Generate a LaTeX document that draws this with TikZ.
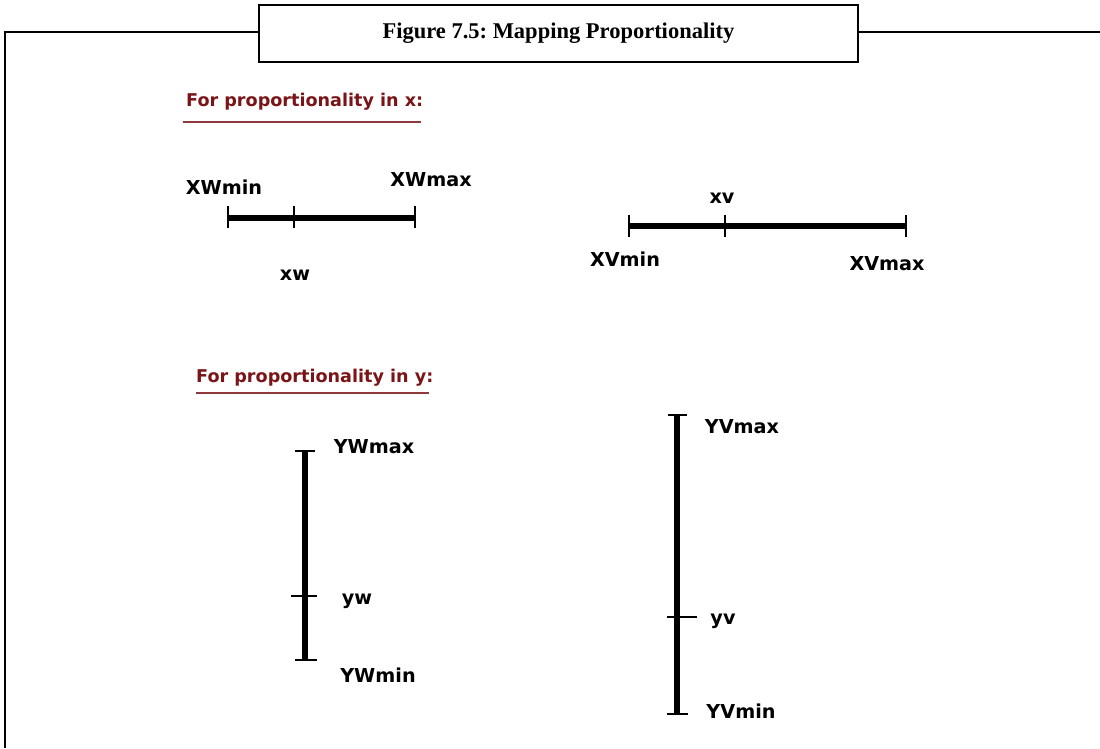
\documentclass[tikz,border=0pt]{standalone}
\usepackage{fontspec}
\newfontfamily\labfont{DejaVu Sans}
\newfontfamily\titlefont{Liberation Serif}
\definecolor{headred}{HTML}{7A1416}
\definecolor{linered}{HTML}{8E3A3C}
\frenchspacing
\begin{document}
\begin{tikzpicture}[x=1pt,y=-1pt,
  lab/.style={font=\labfont\bfseries\fontsize{19.2}{22}\selectfont, inner sep=0pt, anchor=center},
  head/.style={font=\labfont\bfseries\fontsize{17.6}{20}\selectfont, text=headred, inner sep=0pt, anchor=west},
  axisline/.style={line width=6pt},
  tick/.style={line width=1.4pt},
  uline/.style={draw=linered, line width=1.6pt},
  frame/.style={line width=1.8pt}]
\useasboundingbox (0,0) rectangle (1100,748);
% frame
\coordinate (fl) at (5,748);
\coordinate (ftl) at (5,32);
\coordinate (fr) at (1100,32);
\node[draw, line width=1.8pt, minimum width=599pt, minimum height=57pt, anchor=north west, inner sep=0pt,
  font=\titlefont\bfseries\fontsize{22.5}{24}\selectfont] (title) at (258,4) {Figure 7.5: Mapping Proportionality};
\draw[frame] (fl) -- (ftl) -- (title.west |- ftl);
\draw[frame] (title.east |- fr) -- (fr);
% headings
\node[head] (h1) at (186,102) {For proportionality in x:};
\draw[uline] (183,122) -- (421,122);
\node[head] (h2) at (196,378) {For proportionality in y:};
\draw[uline] (196,393) -- (429,393);
% x window axis
\coordinate (xw0) at (228,218);
\coordinate (xw1) at (415,218);
\coordinate (xwm) at (294,218);
\draw[axisline] (xw0) -- (xw1);
\draw[tick] ([yshift=-10pt]xw0) -- ([yshift=12pt]xw0);
\draw[tick] ([yshift=-10pt]xw1) -- ([yshift=12pt]xw1);
\draw[tick] ([yshift=-10pt]xwm) -- ([yshift=12pt]xwm);
\node[lab] (lxwmin) at (224,187) {XWmin};
\node[lab] (lxwmax) at (431,180) {XWmax};
\node[lab] (lxw) at (295,275) {xw};
% x viewport axis
\coordinate (xv0) at (629,226);
\coordinate (xv1) at (906,226);
\coordinate (xvm) at (725,226);
\draw[axisline] (xv0) -- (xv1);
\draw[tick] ([yshift=-11pt]xv0) -- ([yshift=11pt]xv0);
\draw[tick] ([yshift=-11pt]xv1) -- ([yshift=11pt]xv1);
\draw[tick] ([yshift=-11pt]xvm) -- ([yshift=11pt]xvm);
\node[lab] (lxv) at (722,198) {xv};
\node[lab] (lxvmin) at (625,259) {XVmin};
\node[lab] (lxvmax) at (887,264) {XVmax};
% y window axis
\coordinate (yw1) at (305,451);
\coordinate (yw0) at (305,660);
\coordinate (ywm) at (305,596);
\draw[axisline] (yw1) -- (yw0);
\draw[tick] ([xshift=-10pt]yw1) -- ([xshift=10pt]yw1);
\draw[tick] ([xshift=-14pt]ywm) -- ([xshift=12pt]ywm);
\draw[tick] ([xshift=-10pt]yw0) -- ([xshift=12pt]yw0);
\node[lab] (lywmax) at (374,447) {YWmax};
\node[lab] (lyw) at (357,601) {yw};
\node[lab] (lywmin) at (378,675) {YWmin};
% y viewport axis
\coordinate (yv1) at (677,415);
\coordinate (yv0) at (677,714);
\coordinate (yvm) at (677,617);
\draw[axisline] (yv1) -- (yv0);
\draw[tick] ([xshift=-9pt]yv1) -- ([xshift=10pt]yv1);
\draw[tick] ([xshift=-10pt]yvm) -- ([xshift=20pt]yvm);
\draw[tick] ([xshift=-10pt]yv0) -- ([xshift=11pt]yv0);
\node[lab] (lyvmax) at (742,427) {YVmax};
\node[lab] (lyv) at (723,621) {yv};
\node[lab] (lyvmin) at (741,711) {YVmin};
\end{tikzpicture}
\end{document}
